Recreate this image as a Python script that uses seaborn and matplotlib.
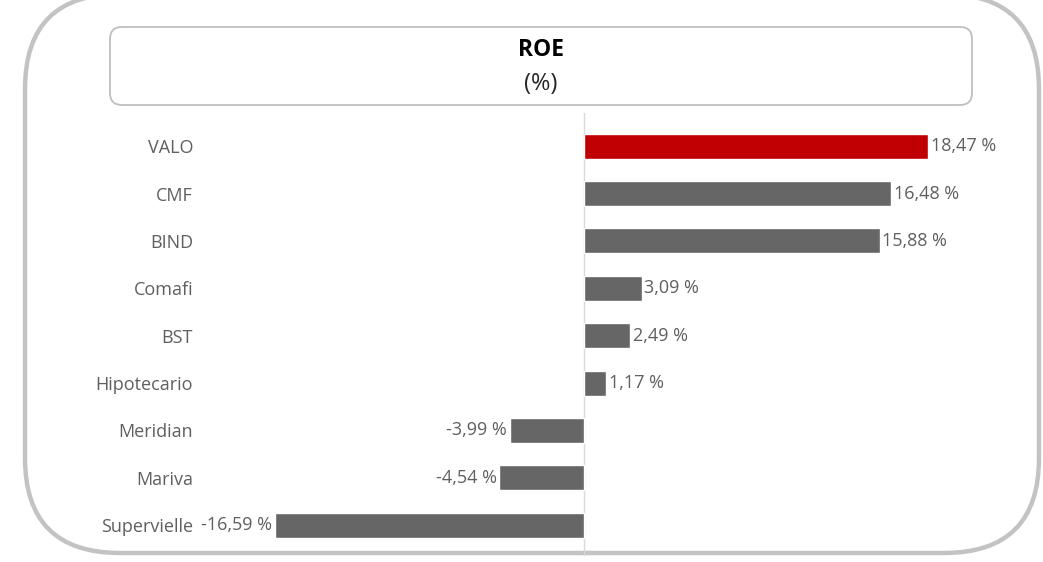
import matplotlib
matplotlib.use('Agg')
import seaborn as sns
import matplotlib.pyplot as plt
from matplotlib.patches import FancyBboxPatch

# data
banks = ['VALO', 'CMF', 'BIND', 'Comafi', 'BST', 'Hipotecario', 'Meridian', 'Mariva', 'Supervielle']
roe = [18.47, 16.48, 15.88, 3.09, 2.49, 1.17, -3.99, -4.54, -16.59]
bar_colors = ['#C00000', '#666666', '#666666', '#666666', '#666666', '#666666', '#666666', '#666666', '#666666']

sns.set_style('white')
plt.rcParams['font.family'] = ['Open Sans', 'DejaVu Sans']

W, H = 1043, 562
fig = plt.figure(figsize=(W / 100, H / 100), dpi=100)
fig.patch.set_facecolor('white')

# background layer in pixel units for the rounded frames
bg = fig.add_axes([0, 0, 1, 1], zorder=0)
bg.set_xlim(0, W)
bg.set_ylim(H, 0)
bg.axis('off')
bg.add_patch(FancyBboxPatch((25, -6), 1014, 559, boxstyle='round,pad=0,rounding_size=95',
                            fc='none', ec='#c3c3c3', lw=3.2))
bg.add_patch(FancyBboxPatch((110, 27), 862, 78, boxstyle='round,pad=0,rounding_size=12',
                            fc='white', ec='#bfbfbf', lw=1.3))
bg.text(541, 50, 'ROE', ha='center', va='center', fontsize=16.5, fontweight='bold', color='black')
bg.text(541, 84, '(%)', ha='center', va='center', fontsize=17, color='#262626')

# bar axes: zero at x=584 px, 18.62 px per unit
left_px, right_px, zero_px, scale = 200, 1000, 584, 18.62
top_px, bottom_px = 113, 556
ax = fig.add_axes([left_px / W, 1 - bottom_px / H, (right_px - left_px) / W, (bottom_px - top_px) / H], zorder=1)
ax.patch.set_alpha(0)

sns.barplot(x=roe, y=banks, hue=banks, palette=bar_colors, legend=False,
            width=0.53, saturation=1, ax=ax)

ax.set_xlim((left_px - zero_px) / scale, (right_px - zero_px) / scale)
ax.set_ylim(8.65, -0.7)
ax.axvline(0, color='#d9d9d9', lw=1, zorder=0)

# value labels next to the bar ends
for i, v in enumerate(roe):
    txt = f'{v:.2f}'.replace('.', ',') + ' %'
    if v >= 0:
        ax.annotate(txt, (v, i), xytext=(2, 0), textcoords='offset points',
                    ha='left', va='center', fontsize=13, color='#5f5f5f')
    else:
        ax.annotate(txt, (v, i), xytext=(-2, 0), textcoords='offset points',
                    ha='right', va='center', fontsize=13, color='#5f5f5f')

ax.set_xticks([])
ax.set_xlabel('')
ax.set_ylabel('')
ax.tick_params(axis='y', length=0, pad=5, labelsize=13, labelcolor='#5f5f5f')
for s in ax.spines.values():
    s.set_visible(False)

fig.savefig('out.png', dpi=100)
